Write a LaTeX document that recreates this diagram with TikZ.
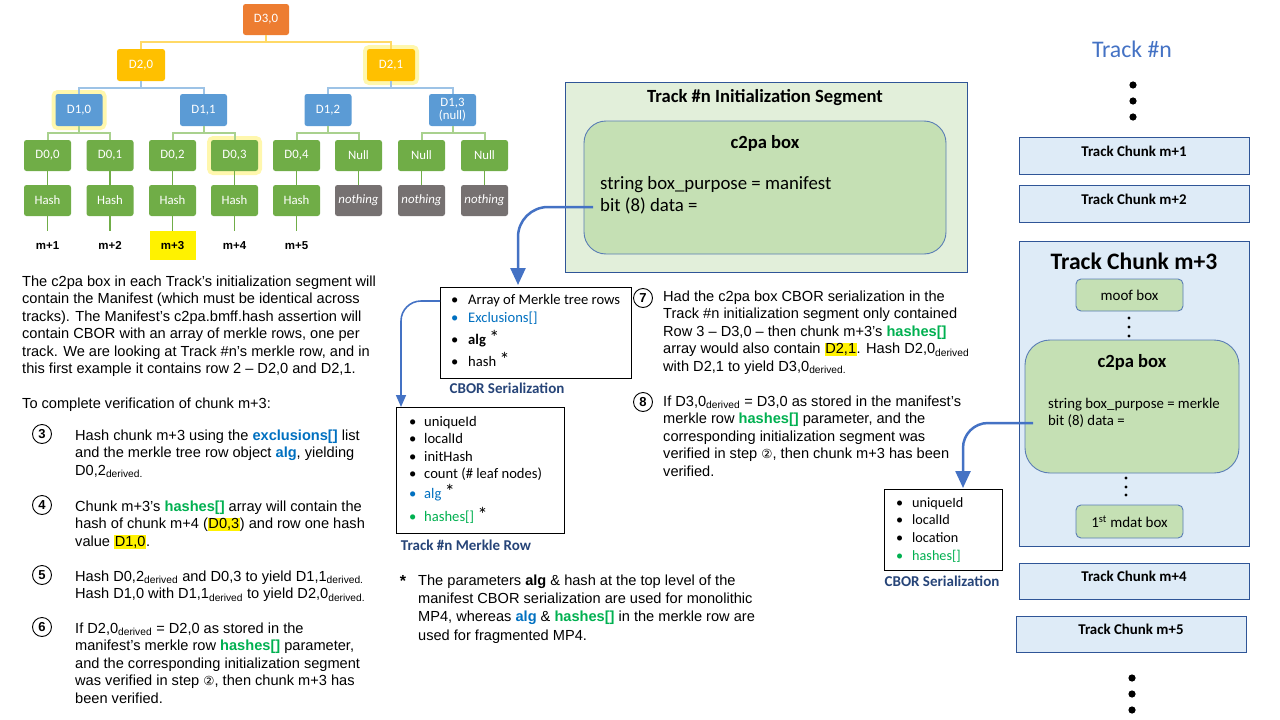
\documentclass[tikz,border=0pt]{standalone}
\usepackage{fontspec}
\setmainfont{Liberation Sans}
\newfontfamily\calfnt{Carlito}
\newfontfamily\dvsfnt{DejaVu Sans}
\usetikzlibrary{arrows.meta}
\definecolor{cblue}{HTML}{0070C0}
\definecolor{cgreen}{HTML}{00B050}
\definecolor{torange}{HTML}{ED7D31}
\definecolor{tgold}{HTML}{FFC000}
\definecolor{tblue}{HTML}{5B9BD5}
\definecolor{tgreen}{HTML}{70AD47}
\definecolor{tgray}{HTML}{767171}
\definecolor{barY}{HTML}{FFD966}
\definecolor{barB}{HTML}{9DC3E6}
\definecolor{barG}{HTML}{A9D18E}
\definecolor{glowc}{HTML}{FFF38A}
\definecolor{arrowc}{HTML}{4472C4}
\definecolor{lbl}{HTML}{264478}
\definecolor{cfill}{HTML}{DEEBF7}
\definecolor{cborder}{HTML}{2F5597}
\definecolor{segfill}{HTML}{E2EFDA}
\definecolor{c2fill}{HTML}{C5E0B4}
\definecolor{c2border}{HTML}{5A7DB5}
\newcommand\hsh{\textbf{\color{cgreen}hashes[]}}
\newcommand\hlt[1]{{\setlength{\fboxsep}{0.6pt}\colorbox{yellow}{#1}}}
\newcommand\tp{\rule{0pt}{14pt}}
\newcommand\dv{\textsubscript{derived}}
\newcommand\dvp{\textsubscript{derived.}}
\newcommand\ctwo{{\dvsfnt\fontsize{12.5}{12.5}\selectfont ②}}
\newcommand\bu[1]{\makebox[17pt][l]{\color{#1}\textbullet}}
\newcommand\bw[1]{\makebox[15pt][l]{\color{#1}\textbullet}}
\newcommand\bx[1]{\makebox[16pt][l]{\color{#1}\textbullet}}
\newcommand\astr{{\fontsize{20}{18}\selectfont\,*}}
\begin{document}
\begin{tikzpicture}[x=1pt,y=-1pt,font=\fontsize{14.6}{17.5}\selectfont,
  tnode/.style={rounded corners=2.5pt,minimum width=47pt,minimum height=31pt,inner sep=0pt,text=white,font=\calfnt\fontsize{12.8}{13}\selectfont,align=center},
  orangeN/.style={tnode,fill=torange},
  goldN/.style={tnode,fill=tgold,minimum width=48pt,minimum height=32pt},
  blueN/.style={tnode,fill=tblue,minimum height=32pt},
  greenN/.style={tnode,fill=tgreen},
  grayN/.style={tnode,fill=tgray,font=\calfnt\itshape\fontsize{12.8}{13}\selectfont},
  glow/.style={preaction={draw=glowc,line width=8pt,opacity=0.7}},
  mlab/.style={minimum width=46pt,minimum height=29pt,inner sep=0pt,font=\bfseries\fontsize{11.5}{12}\selectfont},
  barYs/.style={draw=barY,line width=2pt},
  barBs/.style={draw=barB,line width=2pt},
  barGs/.style={draw=barG,line width=2pt},
  hline/.style={draw=tgreen,line width=1.3pt},
  txt/.style={anchor=north west,inner sep=0pt,align=left},
  circnum/.style={circle,draw,line width=0.9pt,minimum size=19pt,inner sep=0pt,font=\bfseries\fontsize{13}{13}\selectfont},
  chunk/.style={draw=cborder,fill=cfill,line width=0.9pt,minimum width=230pt,minimum height=37pt,inner sep=0pt,font=\calfnt\bfseries\fontsize{14.9}{15}\selectfont,text height=9.5pt,text depth=8.5pt},
  c2box/.style={draw=c2border,fill=c2fill,line width=0.9pt,inner sep=0pt},
  listbox/.style={draw=black,line width=0.9pt,inner sep=0pt,fill=white},
  lbltxt/.style={text=lbl,font=\calfnt\bfseries\fontsize{15}{15}\selectfont,inner sep=0pt},
  listtxt/.style={anchor=north west,inner sep=0pt,align=left,font=\calfnt\fontsize{14.6}{18}\selectfont},
  bigarr/.style={draw=arrowc,line width=2.5pt,rounded corners=30pt,-{Triangle[width=15pt,length=17pt]}},
  smallarr/.style={draw=arrowc,line width=1.6pt,rounded corners=20pt,-{Triangle[width=10pt,length=12pt]}}
]
\useasboundingbox (0,0) rectangle (1280,720);

% ---------------- tree ----------------
\node[orangeN,minimum width=46pt] (d30) at (266,19.5) {D3,0};
\node[goldN] (d20) at (141,65) {D2,0};
\node[goldN,glow] (d21) at (391,65) {D2,1};
\node[blueN,glow] (d10) at (79,110) {D1,0};
\node[blueN] (d11) at (203.5,110) {D1,1};
\node[blueN] (d12) at (328,110) {D1,2};
\node[blueN] (d13) at (452.5,110) {D1,3\\(null)};
\node[greenN] (d00) at (47.5,155.5) {D0,0};
\node[greenN] (d01) at (110,155.5) {D0,1};
\node[greenN] (d02) at (172.5,155.5) {D0,2};
\node[greenN,glow] (d03) at (234.5,155.5) {D0,3};
\node[greenN] (d04) at (296.5,155.5) {D0,4};
\node[greenN] (n5) at (358.5,155.5) {Null};
\node[greenN] (n6) at (421.5,155.5) {Null};
\node[greenN] (n7) at (484.5,155.5) {Null};
\node[greenN] (h0) at (47.5,200.5) {Hash};
\node[greenN] (h1) at (110,200.5) {Hash};
\node[greenN] (h2) at (172.5,200.5) {Hash};
\node[greenN] (h3) at (234.5,200.5) {Hash};
\node[greenN] (h4) at (296.5,200.5) {Hash};
\node[grayN] (g5) at (358.5,200.5) {nothing};
\node[grayN] (g6) at (421.5,200.5) {nothing};
\node[grayN] (g7) at (484.5,200.5) {nothing};
\node[mlab] (m1) at (47.5,245.5) {m+1};
\node[mlab] (m2) at (110,245.5) {m+2};
\node[mlab,fill=yellow] (m3) at (172.5,245.5) {m+3};
\node[mlab] (m4) at (234.5,245.5) {m+4};
\node[mlab] (m5) at (296.5,245.5) {m+5};

\draw[barYs] (d30.south) -- ++(0,7) -| (d20.north);
\draw[barYs] (d30.south) -- ++(0,7) -| (d21.north);
\draw[barBs] (d20.south) -- ++(0,7) -| (d10.north);
\draw[barBs] (d20.south) -- ++(0,7) -| (d11.north);
\draw[barBs] (d21.south) -- ++(0,7) -| (d12.north);
\draw[barBs] (d21.south) -- ++(0,7) -| (d13.north);
\draw[barGs] (d10.south) -- ++(0,7) -| (d00.north);
\draw[barGs] (d10.south) -- ++(0,7) -| (d01.north);
\draw[barGs] (d11.south) -- ++(0,7) -| (d02.north);
\draw[barGs] (d11.south) -- ++(0,7) -| (d03.north);
\draw[barGs] (d12.south) -- ++(0,7) -| (d04.north);
\draw[barGs] (d12.south) -- ++(0,7) -| (n5.north);
\draw[barGs] (d13.south) -- ++(0,7) -| (n6.north);
\draw[barGs] (d13.south) -- ++(0,7) -| (n7.north);
\foreach \a/\b in {d00/h0,d01/h1,d02/h2,d03/h3,d04/h4,n5/g5,n6/g6,n7/g7,h0/m1,h1/m2,h2/m3,h3/m4,h4/m5}
  \draw[hline] (\a.south) -- (\b.north);

% ---------------- left text ----------------
\node[txt] (intro) at (22,272) {\tp The c2pa box in each Track’s initialization  segment will\\
contain the Manifest (which must be identical across\\
tracks). The Manifest’s c2pa.bmff.hash assertion will\\
contain CBOR with an array of merkle rows, one per\\
track. We are looking at Track \#n’s merkle row, and in\\
this first example it contains row 2 – D2,0 and D2,1.};
\node[txt] (tocomp) at (22,394) {\tp To complete verification of chunk m+3:};

\node[circnum] (c3) at (42,434) {3};
\node[txt] (s3) at (75,426) {\tp Hash chunk m+3 using the \textbf{\color{cblue}exclusions[]} list\\
and the merkle tree row object \textbf{\color{cblue}alg}, yielding\\
D0,2\dvp};
\node[circnum] (c4) at (42,505) {4};
\node[txt] (s4) at (75,497) {\tp Chunk m+3’s \hsh{} array will contain the\\
hash of chunk m+4 (\hlt{D0,3}) and row one hash\\
value \hlt{D1,0}.};
\node[circnum] (c5) at (42,575) {5};
\node[txt] (s5) at (75,567) {\tp Hash D0,2\dv{} and D0,3 to yield D1,1\dvp\\
Hash D1,0 with D1,1\dv{} to yield D2,0\dvp};
\node[circnum] (c6) at (42,627) {6};
\node[txt] (s6) at (75,619) {\tp If D2,0\dv{} = D2,0 as stored in the\\
manifest’s merkle row \hsh{} parameter,\\
and the corresponding initialization  segment\\
was verified in step \ctwo, then chunk m+3 has\\
been verified.};

% ---------------- middle text ----------------
\node[circnum] (c7) at (643,298) {7};
\node[txt] (s7) at (663,287) {\tp Had the c2pa box CBOR serialization in the\\
Track \#n initialization  segment only contained\\
Row 3 – D3,0 – then chunk m+3’s \hsh\\
array would also contain \hlt{D2,1}. Hash D2,0\dv\\
with D2,1 to yield D3,0\dvp};
\node[circnum] (c8) at (643,402) {8};
\node[txt] (s8) at (663,392) {\tp If D3,0\dv{} = D3,0 as stored in the manifest’s\\
merkle row \hsh{} parameter, and the\\
corresponding initialization  segment was\\
verified in step \ctwo, then chunk m+3 has been\\
verified.};

\node[font=\bfseries\fontsize{16}{16}\selectfont,inner sep=0pt] (ast) at (403,581) {*};
\node[txt,font=\fontsize{14.6}{18.3}\selectfont] (foot) at (418,571) {\tp The parameters \textbf{alg} \& hash at the top level of the\\
manifest CBOR serialization are used for monolithic\\
MP4, whereas \textbf{\color{cblue}alg} \& \hsh{} in the merkle row are\\
used for fragmented MP4.};

% ---------------- init segment ----------------
\node[draw=cborder,fill=segfill,line width=0.9pt,minimum width=402pt,minimum height=190pt,inner sep=0pt] (seg) at (766,177) {};
\node[font=\calfnt\bfseries\fontsize{18.6}{19}\selectfont,inner sep=0pt] (segt) at (765,98) {Track \#n Initialization Segment};
\node[c2box,minimum width=362pt,minimum height=133pt,rounded corners=22pt] (c2l) at (765,187.5) {};
\node[font=\calfnt\bfseries\fontsize{18.6}{19}\selectfont,inner sep=0pt] (c2lt) at (765,143) {c2pa box};
\node[txt,font=\calfnt\fontsize{18.8}{22.5}\selectfont] (c2lx) at (600,175) {\tp string box\_purpose = manifest\\bit (8) data =};

% ---------------- CBOR boxes ----------------
\node[listbox,minimum width=191pt,minimum height=91pt] (cb1) at (535.5,332.5) {};
\node[listtxt] (cb1t) at (451,290) {\tp\bu{black}Array of Merkle tree rows\\
\bu{cblue}{\color{cblue}Exclusions[]}\\[4pt]
\bu{black}\textbf{alg}\astr\\[4pt]
\bu{black}hash\astr};
\node[lbltxt] (cb1l) at (507,388) {CBOR Serialization};

\node[listbox,minimum width=168pt,minimum height=126pt] (cb2) at (480,470) {};
\node[listtxt,font=\calfnt\fontsize{14.6}{17.4}\selectfont] (cb2t) at (409,412) {\tp\bw{black}uniqueId\\
\bw{black}localId\\
\bw{black}initHash\\
\bw{black}count (\# leaf nodes)\\[2.6pt]
\bw{cblue}{\color{cblue}alg}\astr\\[5.6pt]
\bw{cgreen}{\color{cgreen}hashes[]}\astr};
\node[lbltxt] (cb2l) at (466,545) {Track \#n Merkle Row};

\node[listbox,minimum width=118pt,minimum height=81pt] (cb3) at (943,529.5) {};
\node[listtxt,font=\calfnt\fontsize{14.2}{17.7}\selectfont] (cb3t) at (896,493) {\tp\bx{black}uniqueId\\
\bx{black}localId\\
\bx{black}location\\
\bx{cgreen}{\color{cgreen}hashes[]}};
\node[lbltxt] (cb3l) at (942,581) {CBOR Serialization};

% ---------------- right column ----------------
\node[text=arrowc,font=\calfnt\fontsize{23.8}{24}\selectfont,inner sep=0pt] (trk) at (1132,49) {Track \#n};
\fill (1133,85) circle (3.6pt) (1133,101) circle (3.6pt) (1133,117) circle (3.6pt);
\node[chunk] (tc1) at (1134,155.5) {Track Chunk m+1};
\node[chunk] (tc2) at (1134,203.5) {Track Chunk m+2};
\node[draw=cborder,fill=cfill,line width=0.9pt,minimum width=230pt,minimum height=305pt,inner sep=0pt] (tc3) at (1134,393.5) {};
\node[font=\calfnt\bfseries\fontsize{23.6}{24}\selectfont,inner sep=0pt] (tc3t) at (1134,261) {Track Chunk m+3};
\node[c2box,minimum width=107pt,minimum height=32pt,rounded corners=5pt,font=\calfnt\fontsize{15}{15}\selectfont] (moof) at (1129.5,295) {moof box};
\fill (1129,318) circle (1.6pt) (1129,327) circle (1.6pt) (1129,336) circle (1.6pt);
\node[c2box,minimum width=214pt,minimum height=133pt,rounded corners=25pt] (c2r) at (1132,406.5) {};
\node[font=\calfnt\bfseries\fontsize{18.6}{19}\selectfont,inner sep=0pt] (c2rt) at (1132,362) {c2pa box};
\node[txt,font=\calfnt\fontsize{14.8}{17}\selectfont] (c2rx) at (1048,394.5) {\tp string box\_purpose = merkle\\bit (8) data =};
\fill (1126,478) circle (1.6pt) (1126,487) circle (1.6pt) (1126,495) circle (1.6pt);
\node[c2box,minimum width=107pt,minimum height=33pt,rounded corners=5pt,font=\calfnt\fontsize{15}{15}\selectfont] (mdat) at (1129.5,521.5) {1\textsuperscript{st} mdat box};
\node[chunk,minimum height=36pt] (tc4) at (1134,581) {Track Chunk m+4};
\node[chunk,minimum height=36pt] (tc5) at (1131,634) {Track Chunk m+5};
\fill (1132,678) circle (3.6pt) (1132,694) circle (3.6pt) (1132,710) circle (3.6pt);

% ---------------- arrows ----------------
\coordinate (a1s) at (593,207);
\coordinate (a1e) at (518,285);
\draw[bigarr] (a1s) -| (a1e);
\coordinate (a2s) at (440,301);
\coordinate (a2e) at (401,407);
\draw[smallarr] (a2s) -| (a2e);
\coordinate (a3s) at (1033,423);
\coordinate (a3e) at (963,488);
\draw[bigarr,rounded corners=25pt] (a3s) -| (a3e);
\end{tikzpicture}
\end{document}
